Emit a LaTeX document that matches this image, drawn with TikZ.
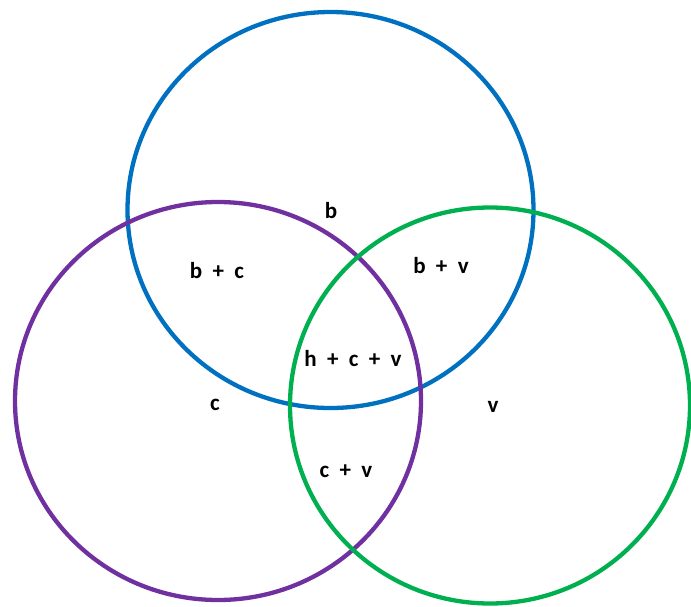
\documentclass[tikz,border=0pt]{standalone}
\usepackage{fontspec}
\setmainfont{Carlito}
\definecolor{vblue}{HTML}{0070C0}
\definecolor{vpurple}{HTML}{7030A0}
\definecolor{vgreen}{HTML}{00B050}
\newcommand\vpl{\hspace{0.45em}+\hspace{0.45em}}
\begin{document}
\begin{tikzpicture}[x=1pt,y=-1pt,
  ring/.style={line width=4.3pt},
  lbl/.style={font=\fontsize{23}{23}\selectfont\bfseries, inner sep=0pt}]
\useasboundingbox (0,0) rectangle (691,606);
\draw[ring, vblue] (330.5,210) ellipse [x radius=203, y radius=198];
\draw[ring, vpurple] (218,401) ellipse [x radius=203, y radius=199];
\draw[ring, vgreen] (490,405.5) ellipse [x radius=200, y radius=198];
\node[lbl] (b) at (331,211) {b};
\node[lbl] (bc) at (217,271) {b\vpl c};
\node[lbl] (bv) at (441,266) {b\vpl v};
\node[lbl] (bcv) at (353,359) {h\vpl c\vpl v};
\node[lbl] (c) at (215,405) {c};
\node[lbl] (v) at (493,407) {v};
\node[lbl] (cv) at (346,471) {c\vpl v};
\end{tikzpicture}
\end{document}
